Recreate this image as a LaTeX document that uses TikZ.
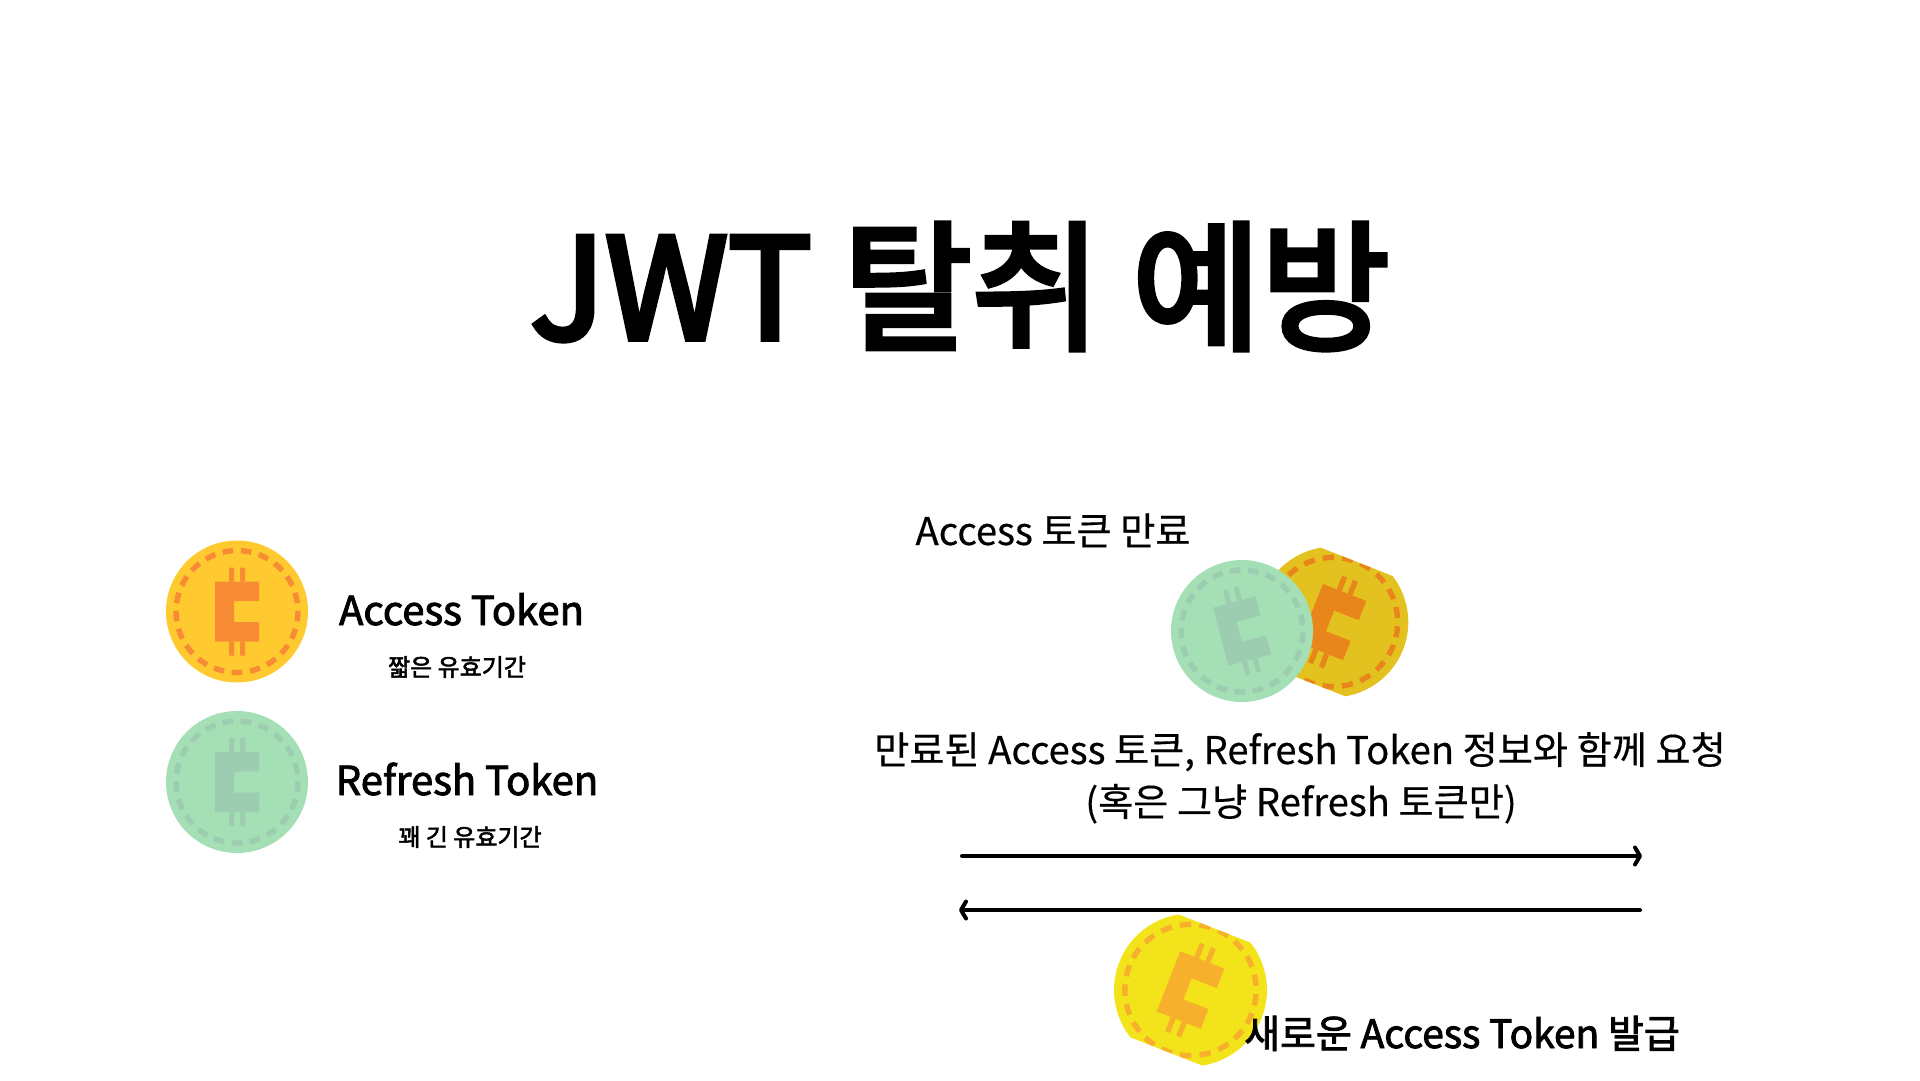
\documentclass[tikz,border=0pt]{standalone}
\usepackage{fontspec}
\usepackage{tikz}
\usetikzlibrary{arrows.meta}
\setmainfont{Noto Sans CJK KR}
\newfontfamily\krmedium[FakeBold=2.2]{Noto Sans CJK KR}
\newfontfamily\krlight[FakeBold=0.4]{Noto Sans CJK KR}
\newfontfamily\krheavy[FakeBold=4]{Noto Sans CJK KR}
\definecolor{coinamber}{HTML}{FFCA2F}
\definecolor{markamber}{HTML}{F78C35}
\definecolor{coinmint}{HTML}{A5DFB5}
\definecolor{markmint}{HTML}{9CCDB1}
\definecolor{coingold}{HTML}{E3C21F}
\definecolor{markgold}{HTML}{E8861C}
\definecolor{coinlemon}{HTML}{F2E31B}
\definecolor{marklemon}{HTML}{F7B02B}
% coin: #1 scope options, #2 half height of the crop, #3 face, #4 marks
\newcommand\drawcoin[4]{
  \begin{scope}[#1]
    \clip (-80,-#2) rectangle (80,#2);
    \fill[#3] (0,0) circle (71);
    \foreach \n in {0,...,20}
      \draw[#4, line width=5.4pt] ({-90+\n*360/21-5}:61) arc[start angle=-90+\n*360/21-5, delta angle=10, radius=61];
    \fill[#4] (-22,-30)--(22,-30)--(22,-10.5)--(-3,-10.5)--(-3,10.5)--(22,10.5)--(22,30)--(-22,30)--cycle;
    \fill[#4] (-8,-44) rectangle (-3,-30) (3,-44) rectangle (8,-30);
    \fill[#4] (-8,30) rectangle (-3,44) (3,30) rectangle (8,44);
  \end{scope}
}
\tikzset{
  label/.style={inner sep=0, anchor=base, font=\fontsize{38.2}{38.2}\krlight},
  medlabel/.style={inner sep=0, anchor=base, font=\fontsize{#1}{#1}\krmedium},
  flow/.style={black, line width=4pt, line cap=round, -{Straight Barb[length=5pt,width=17pt,round]}},
}
\begin{document}
\begin{tikzpicture}[x=1pt, y=-1pt]
  \useasboundingbox (0,0) rectangle (1920,1080);
  % left column
  \drawcoin{shift={(237,611.5)}, x=1pt, y=1pt}{80}{coinamber}{markamber}
  \drawcoin{shift={(237,782)}, x=1pt, y=1pt}{80}{coinmint}{markmint}
  % right column
  \drawcoin{shift={(1333,622)}, x=1pt, y=1pt, scale=1.06, rotate=-21.5}{61}{coingold}{markgold}
  \drawcoin{shift={(1242,631)}, x=1pt, y=1pt, rotate=15}{80}{coinmint}{markmint}
  \drawcoin{shift={(1190.5,990)}, x=1pt, y=1pt, scale=1.077, rotate=-21.4}{61.3}{coinlemon}{marklemon}

  \node[inner sep=0, anchor=base, font=\fontsize{140}{140}\krheavy] (title) at (960,339) {JWT 탈취 예방};

  \node[medlabel=40] (accesslabel) at (461.5,625) {Access Token};
  \node[medlabel=24] (accessnote) at (457,676) {짧은 유효기간};
  \node[medlabel=40] (refreshlabel) at (467,795) {Refresh Token};
  \node[medlabel=24] (refreshnote) at (470,846) {꽤 긴 유효기간};

  \node[label] (expired) at (1053,545) {Access 토큰 만료};
  \node[label] (request) at (1300,764) {만료된 Access 토큰, Refresh Token 정보와 함께 요청};
  \node[label] (requestnote) at (1301,816) {(혹은 그냥 Refresh 토큰만)};
  \node[medlabel=39] (issued) at (1462,1048) {새로운 Access Token 발급};

  \coordinate (reqstart) at (962,856);
  \coordinate (reqend) at (1642,856);
  \coordinate (resstart) at (1640,910);
  \coordinate (resend) at (959,910);
  \draw[flow] (reqstart) -- (reqend);
  \draw[flow] (resstart) -- (resend);
\end{tikzpicture}
\end{document}
